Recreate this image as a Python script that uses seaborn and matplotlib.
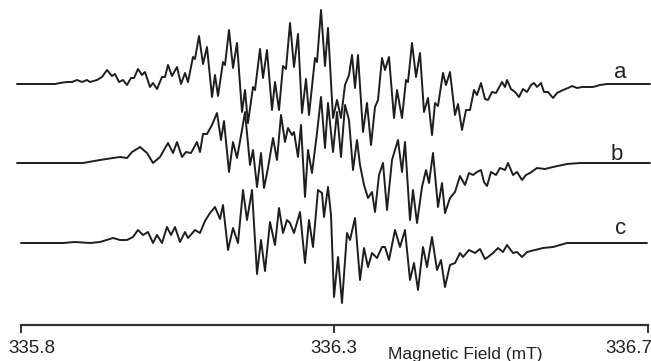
"""
EPR spectra a/b/c stacked, first-derivative traces over the field sweep.
Values read off the published figure (sweep channel vs. signal, arb. units).
"""
import matplotlib
matplotlib.use("Agg")
import matplotlib.pyplot as plt
import matplotlib.transforms as mtransforms
import pandas as pd
import seaborn as sns

# --- data -------------------------------------------------------------------
a_chan = [17, 55, 60, 67, 72, 77, 82, 87, 90, 97, 102, 107, 112, 115, 119, 123, 127, 131, 134, 138,
          142, 145, 150, 153, 157, 162, 165, 168, 172, 177, 181, 185, 188, 193, 195, 199, 203, 207, 212, 215,
          218, 223, 225, 229, 233, 237, 242, 245, 248, 253, 255, 260, 263, 267, 272, 275, 279, 283, 286, 290,
          294, 298, 302, 306, 309, 315, 317, 321, 325, 328, 333, 337, 341, 345, 349, 352, 355, 358, 363, 367,
          371, 375, 378, 382, 385, 389, 394, 397, 402, 406, 408, 412, 416, 420, 424, 428, 432, 435, 438, 443,
          446, 450, 455, 458, 462, 466, 470, 474, 477, 481, 485, 488, 492, 496, 502, 505, 507, 511, 515, 519,
          523, 527, 531, 534, 537, 541, 544, 548, 553, 557, 563, 568, 572, 577, 582, 587, 593, 600, 607, 613,
          650]
a_sig = [0, 0, 1, 2, 2, 4, 2, 4, 2, 4, 7, 14, 8, 10, 2, 4, -1, 6, 6, 15,
         9, 12, -3, 1, -5, 7, 7, 19, 8, 17, 0, 11, 2, 27, 25, 48, 20, 37, -13, 9,
         -12, 22, 19, 54, 16, 41, -28, -6, -39, -3, -6, 35, 6, 34, -26, 2, -26, 18, 15, 61,
         17, 50, -29, 5, -31, 26, 22, 74, 18, 56, -34, -16, -34, -1, 9, 29, -4, 29, -48, -19,
         -61, -23, -16, 26, 14, 27, -34, -6, -34, 4, 2, 41, 7, 31, -28, -14, -51, -19, -22, 11,
         -1, 12, -31, -20, -46, -26, -26, -6, -11, 1, -15, -16, -8, -9, 2, -3, 4, -5, -8, -13,
         -5, -8, -1, 1, -3, 1, -8, -8, -14, -9, -6, -4, -2, -4, -3, -3, -3, -1, 0, 0,
         0]

b_chan = [17, 83, 100, 113, 120, 127, 132, 137, 140, 147, 153, 160, 168, 173, 177, 182, 186, 191, 197, 200,
          203, 207, 212, 217, 221, 224, 229, 233, 237, 242, 245, 250, 253, 257, 261, 264, 268, 273, 277, 281,
          285, 288, 292, 294, 298, 301, 305, 308, 312, 317, 321, 325, 328, 333, 337, 341, 345, 349, 353, 357,
          360, 364, 368, 372, 375, 379, 383, 387, 392, 395, 398, 402, 405, 410, 413, 417, 422, 426, 429, 433,
          438, 442, 445, 450, 455, 460, 465, 469, 473, 477, 481, 484, 487, 491, 496, 500, 505, 508, 513, 517,
          522, 526, 530, 537, 545, 553, 567, 580, 650]
b_sig = [0, 0, 3, 5, 6, 5, 11, 14, 16, 10, 0, 6, 20, 10, 21, 6, 11, 10, 21, 11,
         29, 29, 38, 50, 23, 42, -9, 21, 5, 33, 51, -2, 13, -24, 10, -25, -5, 25, 3, 48,
         21, 35, 28, 31, 6, 38, -34, 13, -10, 30, 66, 15, 60, 11, 51, 6, 58, 43, -7, 23,
         -2, -22, -35, -29, -49, -12, 0, -47, 3, 13, 23, -9, 21, -57, -27, -60, -24, -7, -20, 10,
         -44, -20, -50, -35, -29, -13, -22, -10, -12, -9, -7, -19, -23, -9, -12, -5, -7, 0, -12, -9,
         -17, -12, -10, -5, -6, -4, -1, 0, 0]

c_chan = [21, 63, 75, 90, 100, 113, 120, 127, 133, 138, 143, 148, 153, 157, 162, 167, 171, 175, 180, 185,
          188, 195, 200, 205, 210, 215, 220, 223, 228, 233, 238, 243, 247, 252, 257, 261, 265, 270, 275, 279,
          283, 287, 290, 294, 300, 305, 309, 313, 318, 322, 324, 328, 331, 334, 338, 342, 347, 350, 355, 360,
          364, 368, 372, 377, 382, 385, 389, 395, 400, 405, 410, 414, 418, 423, 427, 432, 437, 441, 445, 450,
          455, 460, 463, 469, 475, 480, 485, 488, 493, 498, 503, 507, 513, 517, 522, 527, 535, 543, 553, 567,
          647]
c_sig = [0, 0, 1, 0, 1, 5, 3, 3, 6, 13, 8, 11, 0, 8, 0, 16, 8, 16, 1, 11,
         5, 13, 10, 22, 30, 36, 24, 38, -7, 15, 0, 53, 23, 53, -31, 3, -28, 21, -2, 35,
         10, 23, 20, 10, 31, -20, 23, -4, 53, 50, 26, 56, 28, -54, -14, -60, 10, 3, 25, -37,
         -5, -24, -10, -15, -4, -4, -17, 13, -4, 13, -37, -20, -47, -4, -24, 6, -27, -17, -44, -22,
         -20, -10, -14, -7, -10, -6, -16, -14, -10, -5, -9, -2, -10, -9, -14, -9, -7, -5, -4, 0,
         0]

trace_names = ["a", "b", "c"]
field_ticks = [21, 334, 648]
field_labels = ["335.8", "336.3", "336.7"]

# --- layout -----------------------------------------------------------------
offsets = [84, 163, 243]          # vertical stacking of the traces
label_pos = [(620, 72), (617, 154), (621, 229)]
ink = "#1e1e1e"

sns.set_style("white")
plt.rcParams["font.family"] = ["Liberation Sans", "DejaVu Sans"]

fig = plt.figure(figsize=(6.51, 3.61), dpi=100)
ax = fig.add_axes([21 / 651, 36 / 361, 627 / 651, 325 / 361])

traces = [(a_chan, a_sig), (b_chan, b_sig), (c_chan, c_sig)]
for (chan, sig), off, name, (lx, ly) in zip(traces, offsets, trace_names, label_pos):
    df = pd.DataFrame({"chan": chan, "sig": [s - off for s in sig]})
    sns.lineplot(data=df, x="chan", y="sig", ax=ax, color=ink, lw=1.4,
                 estimator=None, clip_on=False, legend=False,
                 solid_joinstyle="round", solid_capstyle="round")
    ax.text(lx, -ly, name, ha="center", va="center", fontsize=16, color="#222222")

ax.set_xlim(21, 648)
ax.set_ylim(-325, 0)
ax.set_xlabel("")
ax.set_ylabel("")
ax.set_yticks([])
for side in ["top", "left", "right"]:
    ax.spines[side].set_visible(False)
ax.spines["bottom"].set_color("#333333")
ax.spines["bottom"].set_linewidth(1.6)

ax.set_xticks(field_ticks)
ax.set_xticklabels(field_labels)
ax.tick_params(axis="x", bottom=True, direction="out", length=6, width=1.4, color="#333333",
               labelsize=13.5, labelcolor="#222222", pad=5)
labels = ax.get_xticklabels()
labels[0].set_transform(labels[0].get_transform() +
                        mtransforms.ScaledTranslation(11 / 100, 0, fig.dpi_scale_trans))
labels[-1].set_horizontalalignment("right")
labels[-1].set_transform(labels[-1].get_transform() +
                         mtransforms.ScaledTranslation(4 / 100, 0, fig.dpi_scale_trans))

fig.text(465 / 651, 1 - 355 / 361, "Magnetic Field (mT)", ha="center", va="center",
         fontsize=12.5, color="#222222")

fig.savefig("out.png", dpi=100)
